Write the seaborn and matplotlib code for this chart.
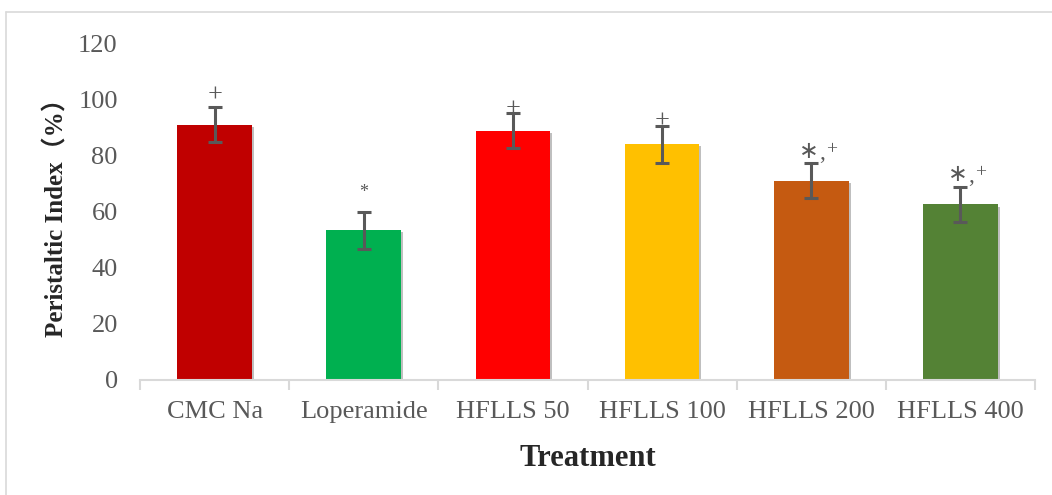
import matplotlib
matplotlib.use("Agg")
import matplotlib.pyplot as plt
import matplotlib.patheffects as pe
from matplotlib.lines import Line2D
import seaborn as sns
import pandas as pd

categories = ["CMC Na", "Loperamide", "HFLLS 50", "HFLLS 100", "HFLLS 200", "HFLLS 400"]
means = [90.9, 53.3, 88.8, 83.9, 71.0, 62.5]
errors = [6.3, 6.5, 6.1, 6.5, 6.2, 6.1]
marks = ["+", "*", "+", "+", "*,+", "*,+"]
mark_y = [101.2, 66.8, 96.2, 92.0, 82.4, 74.4]
colors = ["#C00000", "#00B050", "#FF0000", "#FFC000", "#C55A11", "#548235"]
yticks = [0, 20, 40, 60, 80, 100, 120]

df = pd.DataFrame({"Treatment": categories, "Value": means})

sns.set_theme(style="white")
plt.rcParams["font.family"] = ["Liberation Serif", "Noto Sans CJK SC", "DejaVu Sans"]

fig = plt.figure(figsize=(10.52, 4.95), dpi=100)
ax = fig.add_axes([140 / 1052, 1 - 380 / 495, 895 / 1052, 337 / 495])

sns.barplot(data=df, x="Treatment", y="Value", hue="Treatment", palette=colors,
            order=categories, hue_order=categories, dodge=False, legend=False,
            width=0.5, errorbar=None, ax=ax, saturation=1)

for p in ax.patches:
    p.set_path_effects([pe.SimplePatchShadow(offset=(1.5, -1.5), shadow_rgbFace="#000000", alpha=0.25),
                        pe.Normal()])
    p.set_edgecolor("none")

ax.errorbar(range(len(categories)), means, yerr=errors, fmt="none",
            ecolor="#595959", elinewidth=2.2, capsize=4.7, capthick=2.2, zorder=5)

gray = "#595959"
for i, (m, yv) in enumerate(zip(marks, mark_y)):
    if m == "*":
        ax.text(i, yv, m, ha="center", va="center", fontsize=13, color=gray)
    elif m == "+":
        ax.text(i, yv, m, ha="center", va="center", fontsize=19, color=gray)
    else:
        ax.annotate("\u2217", (i, yv), xytext=(-2, 0), textcoords="offset points",
                    ha="center", va="center_baseline", fontsize=17, color=gray,
                    family=["DejaVu Sans"])
        ax.annotate(",", (i, yv), xytext=(8, -2), textcoords="offset points",
                    ha="center", va="center_baseline", fontsize=17, color=gray)
        ax.annotate("+", (i, yv), xytext=(14.5, 0.5), textcoords="offset points",
                    ha="center", va="center_baseline", fontsize=14, color=gray)

ax.set_ylim(0, 120)
ax.set_xlim(-0.5, len(categories) - 0.5)
ax.set_yticks(yticks)
ax.set_yticklabels([str(t) for t in yticks])
ax.tick_params(axis="y", length=0, pad=16, labelsize=19, labelcolor=gray)
ax.tick_params(axis="x", which="major", length=0, pad=15, labelsize=19, labelcolor=gray)
ax.set_xticks([i - 0.5 for i in range(len(categories) + 1)], minor=True)
ax.tick_params(axis="x", which="minor", length=7, width=1.5, color="#D9D9D9", bottom=True)

for s in ["top", "right", "left"]:
    ax.spines[s].set_visible(False)
ax.spines["bottom"].set_color("#D9D9D9")
ax.spines["bottom"].set_linewidth(1.5)
ax.grid(False)

ax.set_xlabel("Treatment", fontsize=22, fontweight="bold", color="#262626", labelpad=15)
ax.set_ylabel("Peristaltic Index（%）", fontsize=18, fontweight="bold", color="#262626", labelpad=7)

# outer frame lines
fig.add_artist(Line2D([6 / 1052, 1], [1 - 12 / 495, 1 - 12 / 495], color="#D9D9D9", lw=1.2))
fig.add_artist(Line2D([6 / 1052, 6 / 1052], [0, 1 - 12 / 495], color="#D9D9D9", lw=1.2))

fig.savefig("out.png", dpi=100, facecolor="white")
